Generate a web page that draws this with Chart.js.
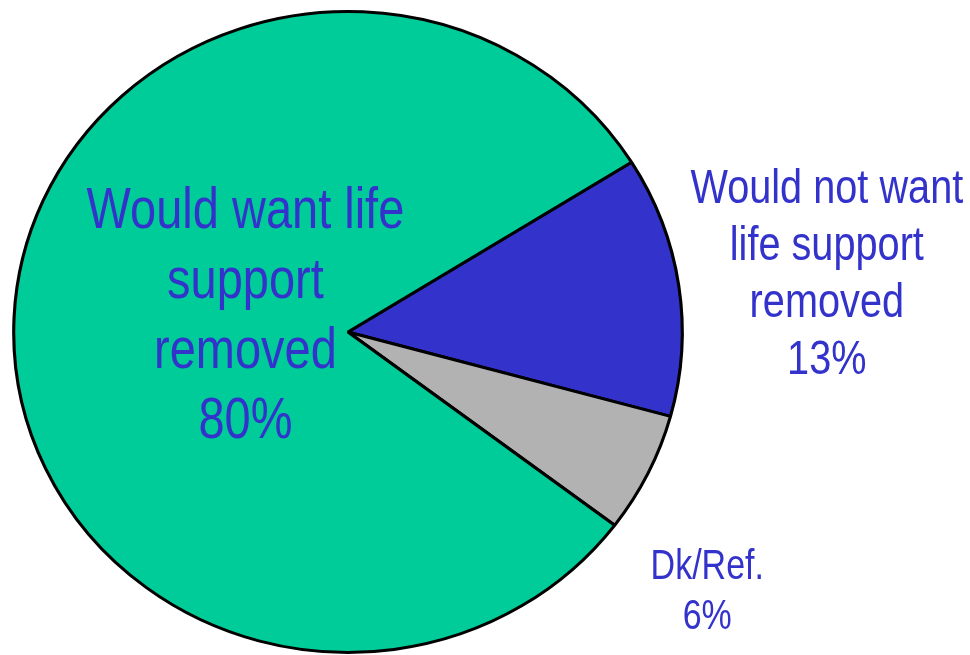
<!DOCTYPE html>
<html>
<head>
<meta charset="utf-8">
<script src="https://cdn.jsdelivr.net/npm/chart.js@4"></script>
<style>
  html, body { margin: 0; padding: 0; background: #fff; }
  #wrap { width: 970px; height: 655px; }
</style>
</head>
<body>
<div id="wrap"><canvas id="myChart" width="970" height="655"></canvas></div>
<script>
// slices, clockwise from the upper right
var categories = [
    ["Would not want", "life support", "removed"],
    ["Dk/Ref."],
    ["Would want life", "support", "removed"]
];
var percents = [13, 6, 80];
var sliceColors = ["#3333CC", "#B2B2B2", "#00CC99"];

// label layout: offset from pie centre in radius units, font px, line px
var labelPos = [
    { dx: 1.494, dy: -0.404, size: 49, line: 57 },
    { dx: 1.121, dy: 0.770, size: 42, line: 50 },
    { dx: -0.32, dy: -0.326, size: 58, line: 70 }
];
var textColor = "#3333CC";
var fontFamily = "'Liberation Sans', Arial, sans-serif";
var narrow = 0.81;   // squeeze Arial into a narrow face

// the pie is a little wider than tall
var stretchX = 1.043;

var ellipsePlugin = {
    id: "ellipse",
    beforeDatasetsDraw: function (chart) {
        var arc = chart.getDatasetMeta(0).data[0];
        var ctx = chart.ctx;
        ctx.save();
        ctx.translate(arc.x, 0);
        ctx.scale(stretchX, 1);
        ctx.translate(-arc.x, 0);
    },
    afterDatasetsDraw: function (chart) {
        chart.ctx.restore();
    }
};

var labelPlugin = {
    id: "sliceLabels",
    afterDraw: function (chart) {
        var ctx = chart.ctx;
        var meta = chart.getDatasetMeta(0);
        meta.data.forEach(function (arc, i) {
            var p = labelPos[i];
            var r = arc.outerRadius;
            var x = arc.x + p.dx * r;
            var y = arc.y + p.dy * r;
            var lines = categories[i].concat([percents[i] + "%"]);
            ctx.save();
            ctx.fillStyle = textColor;
            ctx.textAlign = "center";
            ctx.textBaseline = "alphabetic";
            ctx.font = p.size + "px " + fontFamily;
            ctx.translate(x, y);
            ctx.scale(narrow, 1);
            lines.forEach(function (t, j) {
                ctx.fillText(t, 0, j * p.line);
            });
            ctx.restore();
        });
    }
};

new Chart("myChart", {
    type: "pie",
    data: {
        labels: categories.map(function (c) { return c.join(" "); }),
        datasets: [{
            data: percents,
            backgroundColor: sliceColors,
            borderColor: "#000",
            borderWidth: 3
        }]
    },
    options: {
        responsive: false,
        animation: false,
        rotation: 58,
        layout: { padding: { left: 26, right: 300, top: 10, bottom: 1 } },
        plugins: {
            legend: { display: false },
            tooltip: { enabled: false }
        }
    },
    plugins: [ellipsePlugin, labelPlugin]
});
</script>
</body>
</html>
